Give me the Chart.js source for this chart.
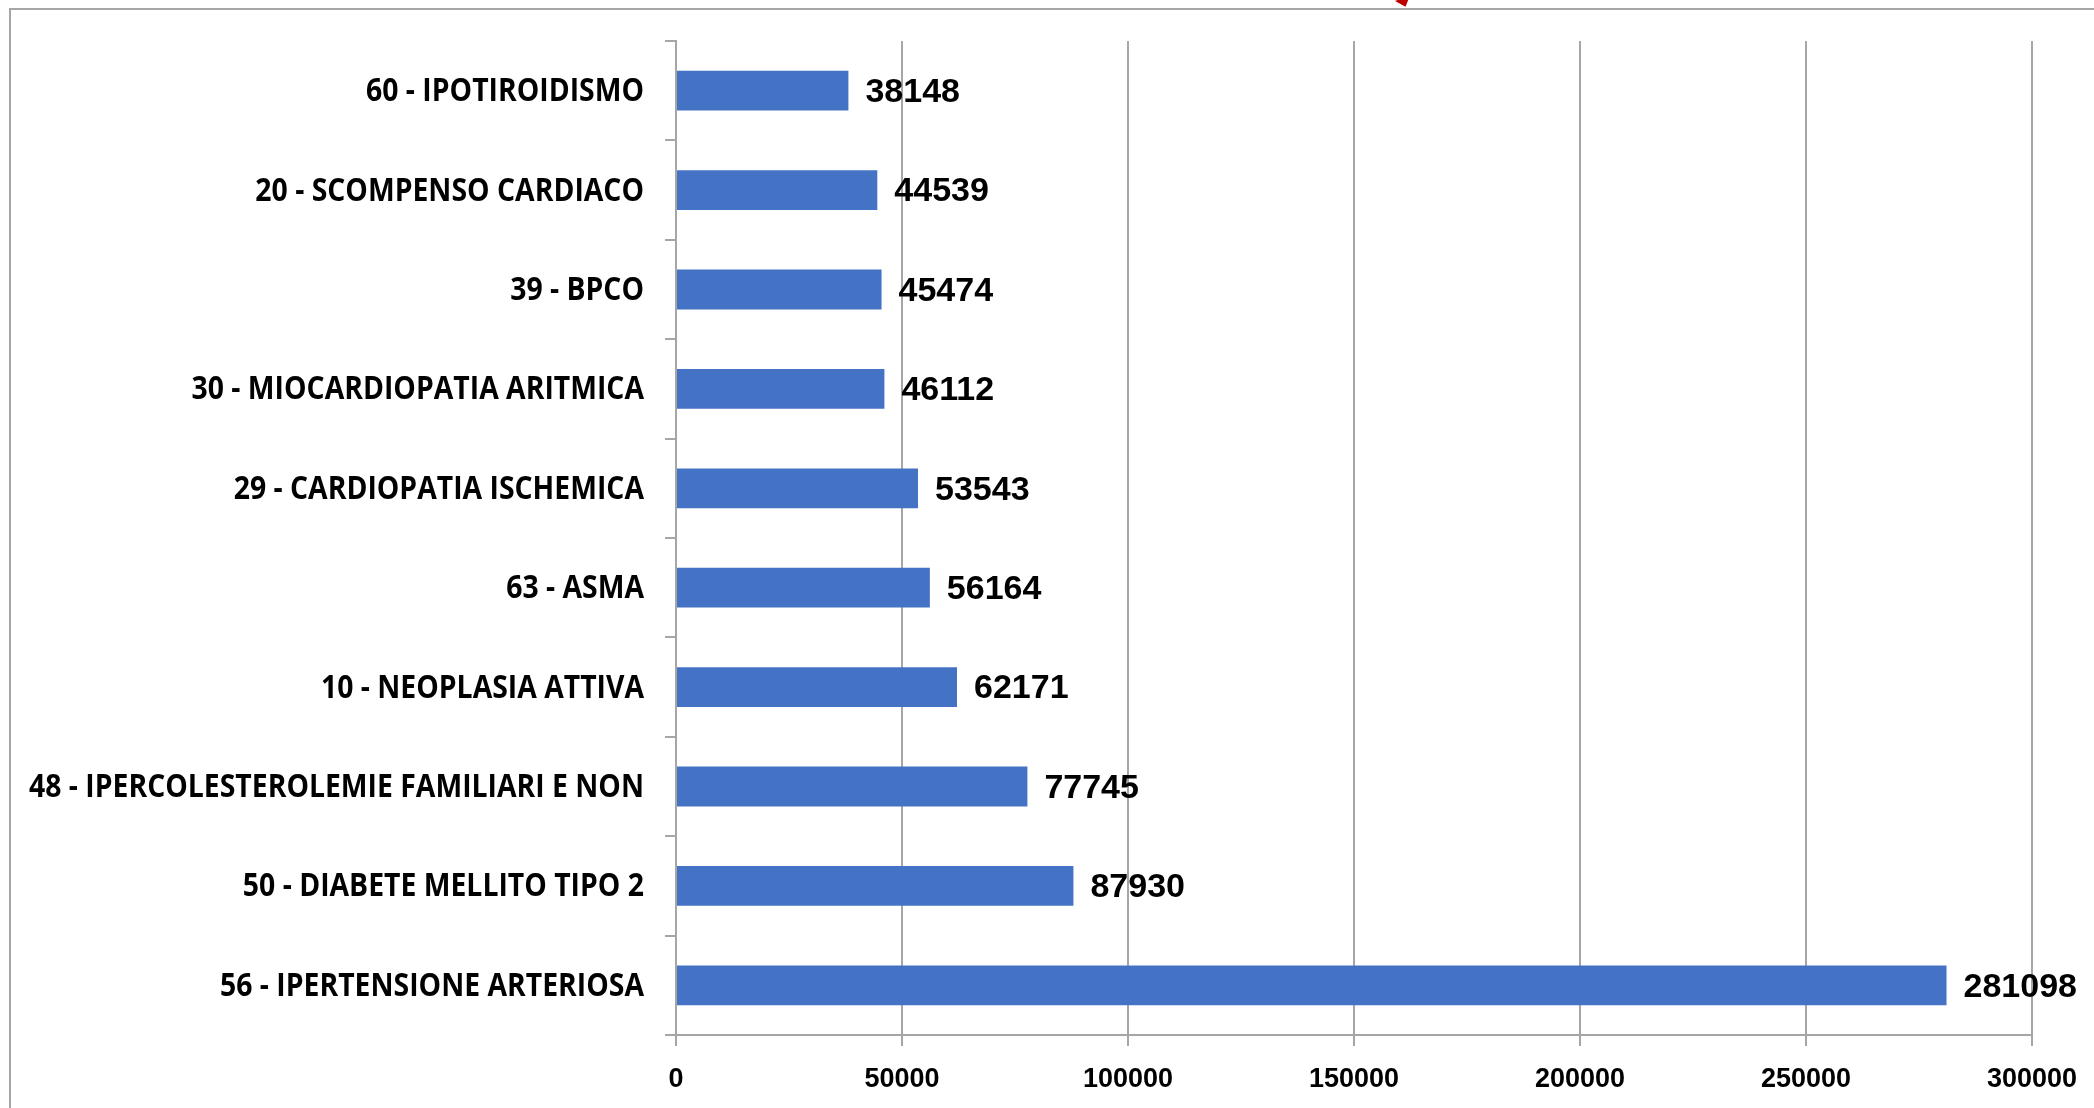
<!DOCTYPE html>
<html>
<head>
<meta charset="utf-8">
<script src="https://cdn.jsdelivr.net/npm/chart.js@4"></script>
<style>
    html, body { margin: 0; padding: 0; background: #fff; }
    #wrap { position: relative; width: 2094px; height: 1108px; overflow: hidden; }
    #frame { position: absolute; left: 9px; top: 8px; right: -10px; bottom: -10px;
             border-top: 2px solid #a6a6a6; border-left: 2px solid #a6a6a6; }
    #arrow { position: absolute; left: 1396px; top: -2px; width: 0; height: 0;
             border-left: 8px solid transparent; border-right: 8px solid transparent;
             border-top: 9px solid #c00000; transform: rotate(-20deg); }
    canvas { position: absolute; left: 0; top: 0; }
</style>
</head>
<body>
<div id="wrap">
    <div id="frame"></div>
    <div id="arrow"></div>
    <canvas id="chronicChart" width="2094" height="1108"></canvas>
</div>
<script>
// Chronic conditions, top to bottom
const conditions = [
    '60 - IPOTIROIDISMO',
    '20 - SCOMPENSO CARDIACO',
    '39 - BPCO',
    '30 - MIOCARDIOPATIA ARITMICA',
    '29 - CARDIOPATIA ISCHEMICA',
    '63 - ASMA',
    '10 - NEOPLASIA ATTIVA',
    '48 - IPERCOLESTEROLEMIE FAMILIARI E NON',
    '50 - DIABETE MELLITO TIPO 2',
    '56 - IPERTENSIONE ARTERIOSA'
];
const patients = [38148, 44539, 45474, 46112, 53543, 56164, 62171, 77745, 87930, 281098];
const xTicks = [0, 50000, 100000, 150000, 200000, 250000, 300000];

const gridColor = '#a6a6a6';
const labelFont = 'bold 33px "Open Sans", Lato, sans-serif';
const labelWidth = 615;   // room taken by the longest condition name
const labelGap = 32;      // distance between names and the axis line

// Condition names, squeezed horizontally to a condensed look
const conditionLabels = {
    id: 'conditionLabels',
    afterDraw(chart) {
        const ctx = chart.ctx;
        const yScale = chart.scales.y;
        ctx.save();
        ctx.font = labelFont;
        const longest = Math.max(...conditions.map(c => ctx.measureText(c).width));
        const squeeze = labelWidth / longest;
        ctx.fillStyle = '#000';
        ctx.textAlign = 'right';
        ctx.textBaseline = 'middle';
        conditions.forEach((c, i) => {
            ctx.save();
            ctx.translate(yScale.right - labelGap, yScale.getPixelForValue(i) + 1);
            ctx.scale(squeeze, 1);
            ctx.fillText(c, 0, 0);
            ctx.restore();
        });
        ctx.restore();
    }
};

// Value printed just right of each bar
const barValueLabels = {
    id: 'barValueLabels',
    afterDatasetsDraw(chart) {
        const ctx = chart.ctx;
        const meta = chart.getDatasetMeta(0);
        ctx.save();
        ctx.font = 'bold 34px "Liberation Sans", sans-serif';
        ctx.fillStyle = '#000';
        ctx.textAlign = 'left';
        ctx.textBaseline = 'middle';
        meta.data.forEach((bar, i) => {
            ctx.fillText(String(patients[i]), bar.x + 17, bar.y + 2);
        });
        ctx.restore();
    }
};

new Chart(document.getElementById('chronicChart').getContext('2d'), {
    type: 'bar',
    data: {
        labels: conditions,
        datasets: [{
            data: patients,
            backgroundColor: '#4472c4',
            borderWidth: 0,
            barPercentage: 0.4,
            categoryPercentage: 1.0
        }]
    },
    options: {
        indexAxis: 'y',
        responsive: false,
        animation: false,
        layout: { padding: { top: 41, right: 58, left: 0, bottom: 0 } },
        plugins: {
            legend: { display: false },
            tooltip: { enabled: false }
        },
        scales: {
            x: {
                min: 0,
                max: 300000,
                afterBuildTicks(scale) {
                    scale.ticks = xTicks.map(v => ({ value: v }));
                },
                afterFit(scale) { scale.height = 73; },
                border: { color: gridColor, width: 2 },
                grid: { color: gridColor, lineWidth: 2, tickLength: 11 },
                ticks: {
                    color: '#000',
                    padding: 17,
                    maxRotation: 0,
                    callback: v => String(v),
                    font: { family: '"Liberation Sans", sans-serif', size: 27, weight: 'bold' }
                }
            },
            y: {
                offset: true,
                afterFit(scale) { scale.width = 676; },
                border: { color: gridColor, width: 2 },
                grid: { offset: true, drawOnChartArea: false, color: gridColor, lineWidth: 2, tickLength: 11 },
                ticks: { display: false }
            }
        }
    },
    plugins: [barValueLabels, conditionLabels]
});
</script>
</body>
</html>
